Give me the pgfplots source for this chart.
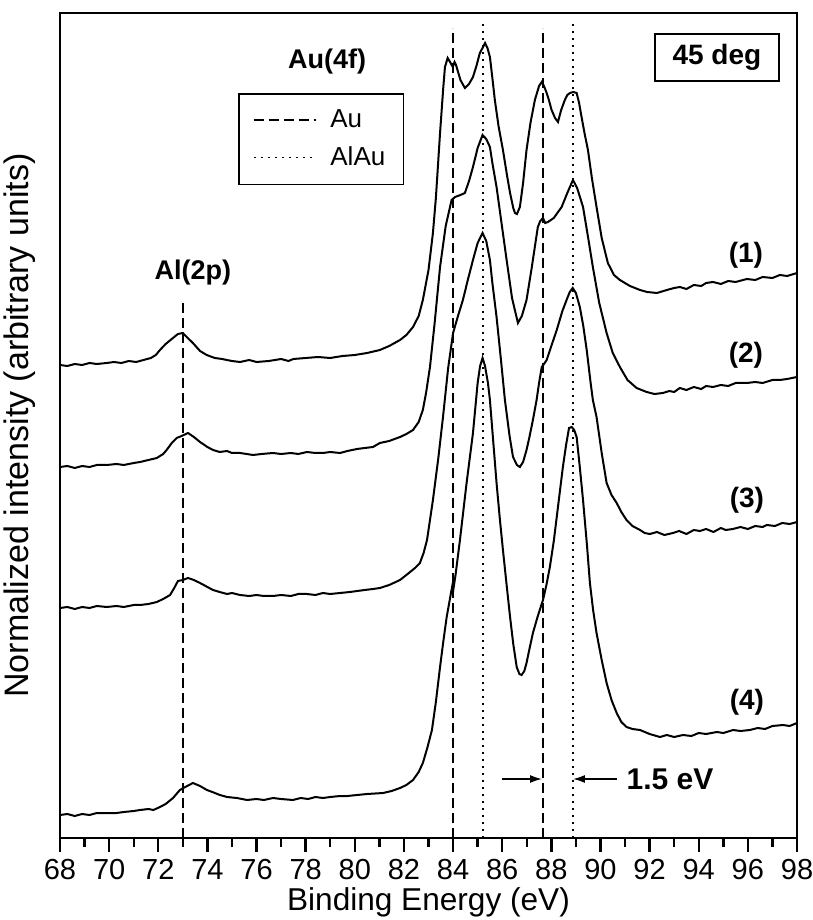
\documentclass[border=0pt]{standalone}
\usepackage{fontspec}
\setmainfont{Liberation Sans}
\usepackage{pgfplots}
\pgfplotsset{compat=1.18}
\usetikzlibrary{arrows.meta}

% spectra: x = binding energy (eV), y = shifted intensity (arb.)
\newcommand{\curveA}{(68.0,473)(68.3,472)(68.6,474)(68.9,473)(69.2,475)(69.5,474)(69.9,475)(70.2,476)(70.5,475)(70.8,477)(71.1,476)(71.4,478)(71.7,480)(71.9,483)(72.07,488)(72.3,494)(72.6,500)(72.8,504)(73.0,505)(73.2,500)(73.41,495)(73.7,487)(73.97,483)(74.3,480)(74.6,479)(74.79,478)(75.0,477)(75.33,476)(75.7,478)(76.0,476)(76.5,477)(77.0,479)(77.3,477)(77.5,479)(78.0,480)(78.5,481)(79.0,480)(79.5,482)(80.0,483)(80.5,485)(81.02,488)(81.4,492)(81.84,498)(82.1,503)(82.37,511)(82.6,522)(82.77,538)(83.0,568)(83.18,605)(83.3,640)(83.47,705)(83.6,750)(83.67,771)(83.78,780)(83.9,775)(83.99,771)(84.06,776)(84.12,773)(84.3,758)(84.48,750)(84.65,754)(84.81,761)(84.95,772)(85.09,785)(85.2,790)(85.30,795)(85.4,790)(85.50,781)(85.6,760)(85.70,738)(85.85,712)(86.03,688)(86.2,662)(86.32,645)(86.45,630)(86.52,625)(86.6,624)(86.72,631)(86.85,655)(86.99,688)(87.15,715)(87.33,738)(87.5,752)(87.61,756)(87.7,752)(87.81,745)(87.9,738)(88.01,728)(88.15,720)(88.27,716)(88.4,728)(88.55,738)(88.65,743)(88.76,745)(88.9,746)(89.03,745)(89.13,735)(89.23,721)(89.35,705)(89.49,688)(89.65,660)(89.84,631)(90.05,600)(90.30,575)(90.55,563)(90.79,558)(91.2,552)(91.61,548)(91.9,546)(92.30,545)(92.7,548)(93.0,550)(93.23,551)(93.5,549)(93.8,553)(94.1,552)(94.3,555)(94.58,556)(94.9,554)(95.2,557)(95.5,556)(95.96,559)(96.3,558)(96.6,561)(97.0,560)(97.30,563)(97.6,562)(98.0,565)}
\newcommand{\curveB}{(68.0,371)(68.3,372)(68.6,370)(68.9,372)(69.2,371)(69.5,373)(69.9,373)(70.3,374)(70.6,373)(71.0,375)(71.26,376)(71.6,378)(71.94,380)(72.2,384)(72.34,388)(72.55,395)(72.75,400)(72.95,402)(73.21,405)(73.45,401)(73.70,396)(74.0,391)(74.23,388)(74.5,386)(74.8,387)(75.0,385)(75.33,385)(75.6,384)(75.86,383)(76.2,384)(76.67,385)(77.0,384)(77.4,385)(77.7,384)(78.05,386)(78.4,385)(78.7,385)(79.0,386)(79.40,385)(79.7,387)(80.09,389)(80.4,390)(80.74,391)(81.02,395)(81.4,397)(81.84,401)(82.1,404)(82.37,408)(82.6,416)(82.77,428)(82.9,445)(83.06,471)(83.25,515)(83.47,571)(83.7,612)(83.94,638)(84.08,641)(84.3,643)(84.48,645)(84.65,657)(84.81,671)(85.0,690)(85.20,703)(85.35,699)(85.50,691)(85.6,675)(85.77,651)(86.0,610)(86.18,578)(86.4,540)(86.64,515)(86.8,522)(86.99,538)(87.2,570)(87.45,611)(87.55,617)(87.66,620)(87.75,615)(87.86,616)(88.1,620)(88.42,631)(88.65,645)(88.88,658)(89.05,650)(89.29,631)(89.5,600)(89.69,571)(89.95,535)(90.25,505)(90.5,485)(90.79,471)(91.1,458)(91.47,450)(91.88,446)(92.2,444)(92.54,445)(92.8,447)(93.0,446)(93.23,450)(93.5,448)(93.8,451)(94.1,449)(94.3,452)(94.58,451)(94.9,453)(95.2,452)(95.5,455)(95.96,455)(96.3,456)(96.6,455)(97.0,458)(97.30,458)(97.6,459)(98.0,461)}
\newcommand{\curveC}{(68.0,230)(68.3,231)(68.6,229)(68.9,231)(69.2,230)(69.5,232)(69.9,231)(70.3,232)(70.6,231)(71.0,233)(71.26,233)(71.6,234)(71.94,236)(72.2,239)(72.48,243)(72.65,250)(72.80,257)(73.0,258)(73.21,260)(73.45,258)(73.70,255)(74.0,251)(74.23,248)(74.5,246)(74.8,244)(75.0,245)(75.33,243)(75.7,242)(76.0,243)(76.3,242)(76.67,242)(77.0,243)(77.4,242)(77.7,244)(78.05,244)(78.4,243)(78.7,245)(79.0,244)(79.40,245)(79.8,246)(80.1,247)(80.4,248)(80.74,249)(81.02,250)(81.4,253)(81.84,258)(82.2,265)(82.45,270)(82.65,275)(82.8,285)(82.94,298)(83.18,338)(83.4,380)(83.59,421)(83.8,470)(84.0,505)(84.2,522)(84.40,538)(84.6,558)(84.81,578)(85.0,595)(85.20,605)(85.35,597)(85.50,578)(85.6,555)(85.77,521)(85.95,478)(86.11,438)(86.3,402)(86.44,381)(86.6,373)(86.72,371)(86.85,376)(86.99,388)(87.1,400)(87.25,418)(87.40,438)(87.5,455)(87.61,471)(87.7,474)(87.81,478)(88.0,492)(88.22,508)(88.45,527)(88.62,538)(88.75,546)(88.87,550)(89.0,545)(89.16,531)(89.3,512)(89.44,488)(89.6,455)(89.69,438)(89.84,421)(90.05,385)(90.25,355)(90.45,343)(90.66,335)(90.85,326)(91.06,318)(91.3,312)(91.61,308)(91.8,305)(92.01,304)(92.3,306)(92.6,303)(92.95,305)(93.2,307)(93.5,304)(93.8,308)(94.05,307)(94.3,309)(94.6,306)(94.9,310)(95.1,308)(95.39,309)(95.7,311)(96.0,309)(96.3,312)(96.6,311)(96.77,313)(97.1,312)(97.4,315)(97.7,314)(98.0,316)}
\newcommand{\curveD}{(68.0,23)(68.3,24)(68.6,22)(68.9,24)(69.2,23)(69.5,25)(69.9,25)(70.3,25)(70.6,26)(71.0,27)(71.26,28)(71.6,29)(71.8,28)(72.07,31)(72.3,34)(72.60,40)(72.88,48)(73.1,51)(73.41,55)(73.7,52)(73.98,48)(74.2,46)(74.51,43)(74.8,41)(75.2,40)(75.61,38)(76.0,39)(76.3,38)(76.67,40)(77.0,39)(77.48,38)(77.8,40)(78.1,39)(78.4,41)(78.70,40)(79.0,41)(79.4,42)(79.7,42)(80.09,43)(80.5,44)(81.15,45)(81.5,47)(81.84,50)(82.1,53)(82.37,58)(82.6,66)(82.77,75)(82.95,90)(83.14,108)(83.3,136)(83.47,171)(83.6,196)(83.74,221)(83.9,243)(83.99,255)(84.02,250)(84.1,263)(84.28,298)(84.55,355)(84.81,405)(85.0,455)(85.10,472)(85.20,480)(85.3,472)(85.42,455)(85.50,438)(85.63,398)(85.77,355)(85.9,320)(86.03,288)(86.18,253)(86.32,221)(86.45,194)(86.59,171)(86.7,164)(86.79,163)(86.9,167)(86.99,175)(87.1,188)(87.25,205)(87.45,222)(87.66,238)(87.8,253)(87.94,271)(88.1,297)(88.22,321)(88.35,347)(88.47,371)(88.6,393)(88.72,410)(88.83,411)(88.93,408)(89.03,401)(89.15,373)(89.29,338)(89.45,293)(89.57,255)(89.7,228)(89.84,205)(90.05,178)(90.25,155)(90.45,138)(90.66,125)(90.85,116)(91.06,111)(91.3,109)(91.61,108)(92.0,104)(92.42,101)(92.7,103)(93.0,101)(93.36,103)(93.7,102)(94.0,105)(94.3,104)(94.74,106)(95.0,105)(95.4,108)(95.7,107)(96.08,108)(96.4,110)(96.7,109)(97.0,112)(97.43,113)(97.7,112)(98.0,115)}

\begin{document}
\begin{tikzpicture}
\begin{axis}[
    name=ax,
    width=368.5pt, height=412.5pt, scale only axis,
    xmin=68, xmax=98, ymin=0, ymax=825,
    axis line style={line width=1.2pt},
    xtick={68,70,...,98}, minor x tick num=1,
    xtick pos=bottom, ytick=\empty,
    tick align=outside,
    major tick length=7pt, minor tick length=4.5pt,
    every tick/.style={black, line width=1.2pt},
    /pgf/number format/assume math mode=true,
    ticklabel style={font=\fontsize{14.5}{16}\selectfont},
    xlabel={Binding Energy (eV)},
    ylabel={Normalized intensity (arbitrary units)},
    xlabel style={font=\fontsize{15.8}{17}\selectfont, yshift=3pt},
    ylabel style={font=\fontsize{17}{19}\selectfont, at={(axis description cs:-0.054,0.5)}, anchor=center},
    legend style={at={(axis description cs:0.2415,0.903)}, anchor=north west,
        draw=black, line width=0.8pt, font=\fontsize{13}{15}\selectfont,
        inner xsep=7pt, inner ysep=6pt, row sep=4pt, column sep=5pt},
    legend cell align=left,
    legend image code/.code={\draw[#1, line width=0.8pt] (0pt,0pt) -- (31pt,0pt);},
]
% reference lines
\addplot[black, line width=1pt, dash pattern=on 5pt off 2.5pt] coordinates {(84.0,0) (84.0,810)};
\addlegendentry{Au}
\addplot[black, line width=1pt, dash pattern=on 1pt off 2.5pt] coordinates {(85.2,0) (85.2,815)};
\addlegendentry{AlAu}
\addplot[black, line width=1pt, dash pattern=on 5pt off 2.5pt, forget plot] coordinates {(87.65,0) (87.65,810)};
\addplot[black, line width=1pt, dash pattern=on 1pt off 2.5pt, forget plot] coordinates {(88.87,0) (88.87,815)};
\addplot[black, line width=1pt, dash pattern=on 5pt off 2.5pt, forget plot] coordinates {(73.0,0) (73.0,535)};

% spectra
\addplot[black, line width=1pt, forget plot] coordinates {\curveA};
\addplot[black, line width=1pt, forget plot] coordinates {\curveB};
\addplot[black, line width=1pt, forget plot] coordinates {\curveC};
\addplot[black, line width=1pt, forget plot] coordinates {\curveD};

% annotations
\node[font=\bfseries\fontsize{13.5}{15}\selectfont] at (axis cs:78.87,776) {Au(4f)};
\node[font=\bfseries\fontsize{13.5}{15}\selectfont] at (axis cs:73.41,565) {Al(2p)};
\node[draw, line width=0.8pt, minimum width=62pt, minimum height=23.5pt, inner sep=0pt,
      font=\bfseries\fontsize{14}{16}\selectfont] at (axis cs:94.74,780.5) {45 deg};
\node[font=\bfseries\fontsize{14}{16}\selectfont] at (axis cs:95.92,583) {(1)};
\node[font=\bfseries\fontsize{14}{16}\selectfont] at (axis cs:95.92,483) {(2)};
\node[font=\bfseries\fontsize{14}{16}\selectfont] at (axis cs:95.96,338) {(3)};
\node[font=\bfseries\fontsize{14}{16}\selectfont] at (axis cs:95.96,136) {(4)};
\draw[line width=0.8pt, -{Latex[length=6pt,width=4pt]}] (axis cs:85.99,59) -- (axis cs:87.62,59);
\draw[line width=0.8pt, -{Latex[length=6pt,width=4pt]}] (axis cs:90.67,59) -- (axis cs:88.88,59);
\node[font=\bfseries\fontsize{15}{17}\selectfont] at (axis cs:92.83,59) {1.5 eV};
\end{axis}
\pgfresetboundingbox
\path ([shift={(-30pt,-41pt)}]ax.south west) rectangle ([shift={(8pt,6.5pt)}]ax.north east);
\end{tikzpicture}
\end{document}
